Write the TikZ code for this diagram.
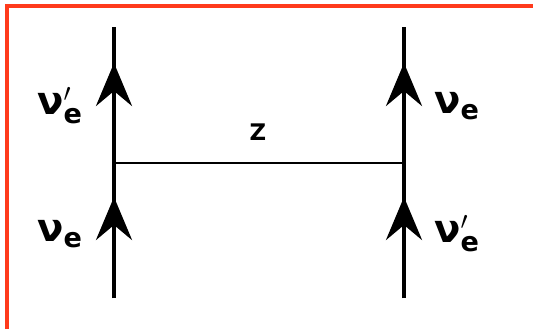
\documentclass[tikz,border=0pt]{standalone}
\usepackage{fontspec}
\setmainfont{DejaVu Sans}
\usepackage{tikz}
\usetikzlibrary{arrows.meta}
\definecolor{frame}{HTML}{FF3A1C}

\begin{document}
\begin{tikzpicture}[
        fermion/.style={line width=2.4pt, draw=black},
        flow/.style={-{Stealth[length=8.6mm, width=7.2mm, inset=3mm]}, line width=2.4pt},
        boson/.style={line width=1.1pt, draw=black},
        particle/.style={font=\fontsize{22}{26}\selectfont\bfseries, inner sep=0pt},
        exchange/.style={font=\fontsize{13}{15}\selectfont\bfseries, inner sep=0pt}
    ]
        \useasboundingbox (0,0) rectangle (10.66,6.58);
        \draw[frame, line width=1.8pt] (0.14,0) -- (0.14,6.46) -- (10.66,6.46);

        % vertices and line ends
        \coordinate (lbot) at (2.28,0.62);
        \coordinate (ltop) at (2.28,6.04);
        \coordinate (lv) at (2.28,3.32);
        \coordinate (rbot) at (8.08,0.62);
        \coordinate (rtop) at (8.08,6.04);
        \coordinate (rv) at (8.08,3.32);
        \coordinate (lin) at (2.28,2.64);
        \coordinate (lout) at (2.28,5.32);
        \coordinate (rin) at (8.08,2.64);
        \coordinate (rout) at (8.08,5.32);

        \draw[fermion] (lbot) -- (ltop);
        \draw[fermion] (rbot) -- (rtop);
        \draw[flow] (lbot) -- (lin);
        \draw[flow] (lv) -- (lout);
        \draw[flow] (rbot) -- (rin);
        \draw[flow] (rv) -- (rout);
        \draw[boson] (lv) -- (rv);

        \node[particle] (nuoutl) at (1.2,4.46) {ν$'_{\mathbf{e}}$};
        \node[particle] (nuinl) at (1.2,1.9) {ν$_{\mathbf{e}}$};
        \node[particle] (nuoutr) at (9.14,4.46) {ν$_{\mathbf{e}}$};
        \node[particle] (nuinr) at (9.14,1.9) {ν$'_{\mathbf{e}}$};
        \node[exchange] (zb) at (5.16,3.94) {Z};
    \end{tikzpicture}
\end{document}
